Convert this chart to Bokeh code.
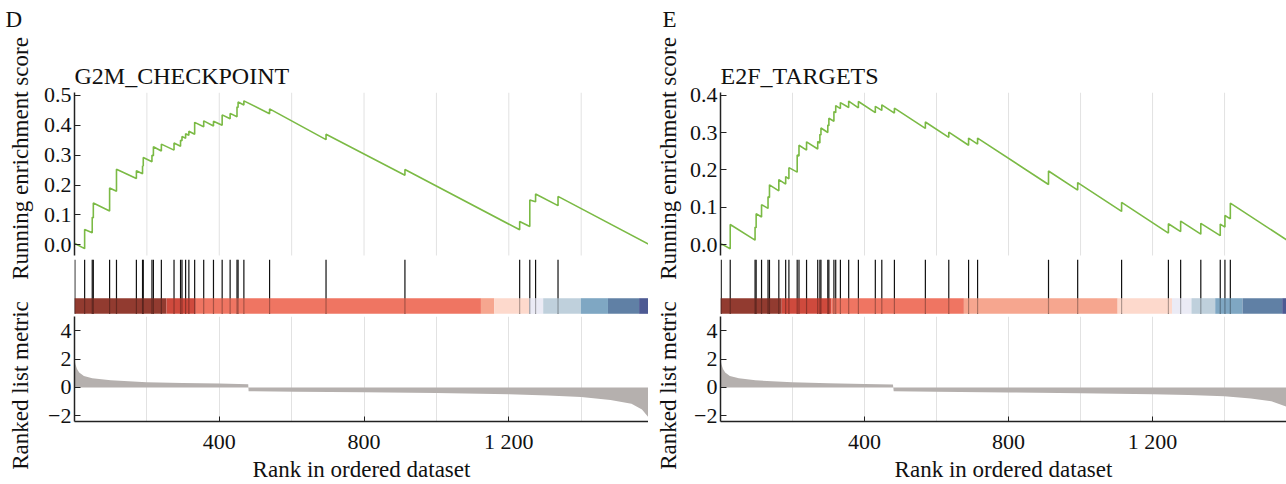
import math
from bokeh.plotting import figure
from bokeh.layouts import row, column
from bokeh.models import Range1d, FixedTicker, NumeralTickFormatter
from bokeh.core.properties import value
from bokeh.embed import file_html
from bokeh.resources import INLINE

# ---------------- data ----------------
grid_ticks = [200, 400, 600, 800, 1000, 1200, 1400]
rank_ticks = [400, 800, 1200]
rank_tick_labels = {400: "400", 800: "800", 1200: "1 200"}
metric_ticks = [-2, 0, 2, 4]
metric_tick_labels = {-2: "\u22122", 0: "0", 2: "2", 4: "4"}

bar_colors = ["#923b30", "#cf4a3d", "#ef7562", "#f6a68f", "#fdd9cc",
              "#ebebf5", "#bfd0dc", "#7fa7c3", "#6080a5", "#4d5a93"]

# Panel D : G2M_CHECKPOINT
n_D = 1586
hits_D = [1, 28, 49, 52, 97, 116, 171, 188, 190, 214, 218, 240, 275, 293, 297,
          307, 316, 332, 357, 384, 408, 430, 449, 452, 468, 539, 695, 913,
          1230, 1258, 1274, 1336]
es_before_D = [0.0, -0.013, 0.040, 0.090, 0.113, 0.179, 0.222, 0.238, 0.264,
               0.278, 0.298, 0.314, 0.317, 0.330, 0.348, 0.357, 0.367, 0.370,
               0.395, 0.398, 0.400, 0.422, 0.429, 0.460, 0.468, 0.439, 0.352,
               0.233, 0.050, 0.061, 0.144, 0.131]
es_after_D = [0.004, 0.051, 0.092, 0.140, 0.190, 0.253, 0.248, 0.265, 0.292,
              0.300, 0.328, 0.337, 0.341, 0.350, 0.363, 0.372, 0.380, 0.410,
              0.415, 0.414, 0.435, 0.440, 0.462, 0.478, 0.482, 0.455, 0.370,
              0.252, 0.078, 0.150, 0.170, 0.162]
es_end_D = 0.002
es_ticks_D = [0.0, 0.1, 0.2, 0.3, 0.4, 0.5]
es_lim_D = (-0.036, 0.51)
metric_rank_D = [0, 3, 7, 13, 26, 49, 100, 199, 298, 400, 480, 481, 612, 800,
                 1000, 1201, 1308, 1400, 1481, 1539, 1568, 1586]
metric_val_D = [1.95, 1.6, 1.3, 1.05, 0.8, 0.65, 0.5, 0.37, 0.31, 0.27, 0.23,
                -0.27, -0.30, -0.34, -0.40, -0.48, -0.57, -0.68, -0.88, -1.15,
                -1.55, -2.1]
bar_edges_D = [0, 254, 335, 1123, 1160, 1256, 1295, 1399, 1474, 1560, 1586]

# Panel E : E2F_TARGETS
n_E = 1572
hits_E = [2, 27, 96, 99, 114, 132, 136, 162, 181, 190, 213, 218, 239, 270, 276,
          279, 298, 301, 315, 320, 333, 356, 383, 430, 448, 483, 569, 634, 689,
          714, 911, 992, 1114, 1244, 1278, 1334, 1388, 1401, 1416]
es_before_E = [0.0, -0.011, 0.012, 0.045, 0.074, 0.097, 0.126, 0.144, 0.162,
               0.176, 0.194, 0.237, 0.253, 0.256, 0.272, 0.293, 0.300, 0.318,
               0.330, 0.353, 0.364, 0.367, 0.366, 0.353, 0.359, 0.352, 0.311,
               0.287, 0.266, 0.269, 0.161, 0.146, 0.089, 0.031, 0.035, 0.028,
               0.024, 0.047, 0.069]
es_after_E = [0.002, 0.054, 0.047, 0.083, 0.107, 0.128, 0.160, 0.174, 0.182,
              0.206, 0.240, 0.266, 0.275, 0.276, 0.295, 0.312, 0.320, 0.338,
              0.356, 0.372, 0.380, 0.384, 0.383, 0.370, 0.374, 0.365, 0.328,
              0.301, 0.285, 0.285, 0.197, 0.166, 0.113, 0.056, 0.063, 0.057,
              0.055, 0.078, 0.111]
es_end_E = 0.013
es_ticks_E = [0.0, 0.1, 0.2, 0.3, 0.4]
es_lim_E = (-0.029, 0.407)
metric_rank_E = [0, 3, 7, 13, 26, 51, 97, 199, 300, 400, 479, 481, 599, 800,
                 1000, 1200, 1300, 1399, 1473, 1530, 1572]
metric_val_E = [1.95, 1.6, 1.3, 1.05, 0.8, 0.64, 0.5, 0.36, 0.3, 0.24, 0.21,
                -0.27, -0.30, -0.35, -0.41, -0.48, -0.54, -0.62, -0.78, -0.98,
                -1.35]
bar_edges_E = [0, 170, 308, 676, 1103, 1254, 1308, 1374, 1450, 1560, 1572]

# ---------------- style ----------------
FONT = "Liberation Serif"
GREEN = "#7bba45"
FILL = "#b5b0ae"
GRID = "#e2e2e2"
AXIS = "#222222"
TICK_FS = "22px"
LAB_FS = "23px"
H = 484
ES_H = 163      # pixel height of the running-score area
HIT_H = 61      # pixel height of the hit / colour-bar strip


def style_yaxis(ax, ticks, overrides=None, fmt=None):
    ax.ticker = FixedTicker(ticks=ticks)
    if fmt is not None:
        ax.formatter = fmt
    if overrides:
        ax.major_label_overrides = overrides
    ax.major_label_text_font = FONT
    ax.major_label_text_font_size = TICK_FS
    ax.major_label_text_color = "#111111"
    ax.major_tick_in = 6
    ax.major_tick_out = 0
    ax.minor_tick_line_color = None
    ax.axis_line_color = AXIS
    ax.axis_line_width = 1.5
    ax.major_tick_line_color = AXIS
    ax.major_tick_line_width = 1.2
    ax.major_label_standoff = 3


def text_fig(width, letter, letter_x, title_x):
    p = figure(width=width, height=H, x_range=Range1d(0, width), y_range=Range1d(0, H),
               min_border=0, toolbar_location=None, output_backend="svg")
    p.axis.visible = False
    p.grid.visible = False
    p.outline_line_color = None
    p.text(x=[letter_x], y=[H - 19], text=[letter], text_font=value(FONT),
           text_font_size="23px", text_baseline="alphabetic", text_align="left",
           text_color="#111111")
    p.text(x=[title_x, title_x], y=[H - 158, H - 385],
           text=["Running enrichment score", "Ranked list metric"],
           angle=math.pi / 2, text_font=value(FONT), text_font_size=LAB_FS,
           text_baseline="middle", text_align="center", text_color="#111111")
    return p


def panel(title, n, hits, es_b, es_a, es_end, es_ticks, es_lim, m_rank, m_val,
          edges, lb, fw):
    xr = Range1d(0, n)
    ylo, yhi = es_lim
    frame_h = ES_H + HIT_H
    y_full_lo = yhi - (yhi - ylo) * frame_h / ES_H

    # running enrichment score (step curve through the read vertices)
    xs = [0]
    ys = [0.0]
    for h, b, a in zip(hits, es_b, es_a):
        xs += [h, h]
        ys += [b, a]
    xs.append(n)
    ys.append(es_end)

    p1 = figure(width=lb + fw, height=92 + frame_h, x_range=xr,
                y_range=Range1d(y_full_lo, yhi),
                min_border_left=lb, min_border_right=0, min_border_top=92,
                min_border_bottom=0, toolbar_location=None, output_backend="svg",
                title=title)
    p1.extra_y_ranges = {"hits": Range1d(0, frame_h / HIT_H)}
    p1.title.text_font = FONT
    p1.title.text_font_size = "24px"
    p1.title.text_font_style = "normal"
    p1.title.text_color = "#111111"
    p1.title.align = "left"
    p1.title.offset = 0
    p1.title.standoff = 7
    p1.xaxis.visible = False
    p1.grid.visible = False
    p1.outline_line_color = None
    style_yaxis(p1.yaxis[0], es_ticks, fmt=NumeralTickFormatter(format="0.0"))
    p1.yaxis[0].bounds = (ylo, yhi)
    # vertical grid lines limited to the score area
    p1.segment(x0=grid_ticks, y0=ylo, x1=grid_ticks, y1=yhi,
               line_color=GRID, line_width=1, level="underlay")
    p1.line(xs, ys, line_color=GREEN, line_width=1.6)

    # hits and colour bar
    p1.segment(x0=hits, y0=0.044, x1=hits, y1=0.93, line_color="#111111",
               line_width=1.2, y_range_name="hits")
    p1.quad(left=edges[:-1], right=edges[1:], bottom=0.044, top=0.3,
            fill_color=bar_colors, line_color=None, y_range_name="hits")
    p1.segment(x0=hits, y0=0.044, x1=hits, y1=0.3, line_color="black",
               line_alpha=0.3, line_width=1.2, y_range_name="hits")

    # ranked list metric
    p3 = figure(width=lb + fw, height=168, x_range=xr, y_range=Range1d(-2.4, 5.0),
                min_border_left=lb, min_border_right=0, min_border_top=0,
                min_border_bottom=59, toolbar_location=None, output_backend="svg")
    p3.outline_line_color = None
    p3.ygrid.visible = False
    p3.xgrid.ticker = FixedTicker(ticks=grid_ticks)
    p3.xgrid.grid_line_color = GRID
    p3.varea(x=m_rank, y1=0, y2=m_val, fill_color=FILL)
    style_yaxis(p3.yaxis[0], metric_ticks, overrides=metric_tick_labels)
    xa = p3.xaxis[0]
    xa.ticker = FixedTicker(ticks=rank_ticks)
    xa.major_label_overrides = rank_tick_labels
    xa.major_label_text_font = FONT
    xa.major_label_text_font_size = TICK_FS
    xa.major_label_text_color = "#111111"
    xa.major_tick_in = 5
    xa.major_tick_out = 0
    xa.minor_tick_line_color = None
    xa.axis_line_color = AXIS
    xa.axis_line_width = 1.5
    xa.major_tick_line_color = AXIS
    xa.major_label_standoff = 7
    xa.axis_label = "Rank in ordered dataset"
    xa.axis_label_text_font = FONT
    xa.axis_label_text_font_size = "23px"
    xa.axis_label_text_font_style = "normal"
    xa.axis_label_text_color = "#111111"
    xa.axis_label_standoff = 0
    return column(p1, p3, spacing=0)


tD = text_fig(40, "D", 5, 20)
pD = panel("G2M_CHECKPOINT", n_D, hits_D, es_before_D, es_after_D, es_end_D,
           es_ticks_D, es_lim_D, metric_rank_D, metric_val_D, bar_edges_D, 34, 574)
tE = text_fig(38, "E", 14, 20)
pE = panel("E2F_TARGETS", n_E, hits_E, es_before_E, es_after_E, es_end_E,
           es_ticks_E, es_lim_E, metric_rank_E, metric_val_E, bar_edges_E, 31, 569)

layout = row(tD, pD, tE, pE, spacing=0)
open("out.html", "w").write(file_html(layout, INLINE))
